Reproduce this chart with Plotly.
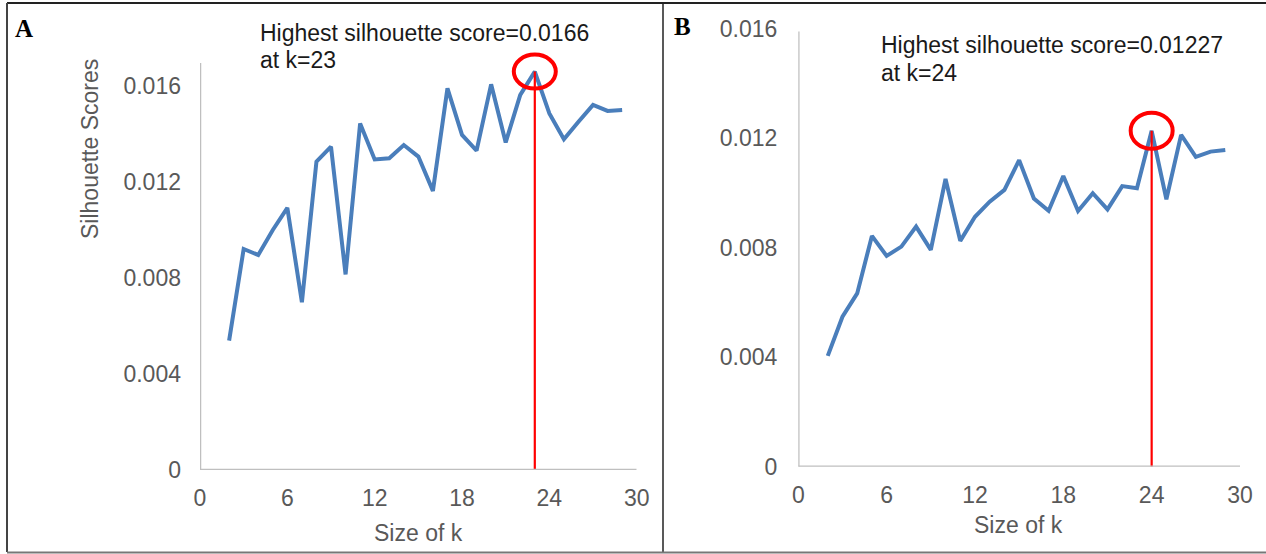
import plotly.graph_objects as go

k_values = list(range(2, 30))
scores_a = [0.00539, 0.00921, 0.00896, 0.0100, 0.01092, 0.00699, 0.01285, 0.01347,
            0.00815, 0.01444, 0.01294, 0.01299, 0.01354, 0.01306, 0.01163, 0.0159,
            0.01396, 0.01331, 0.01607, 0.01365, 0.01563, 0.0166, 0.01486, 0.01378,
            0.01451, 0.01521, 0.01496, 0.0150]
scores_b = [0.00405, 0.00548, 0.00633, 0.00843, 0.0077, 0.00804, 0.00877, 0.00792,
            0.01051, 0.00825, 0.00913, 0.00968, 0.01011, 0.0112, 0.0098, 0.00935,
            0.01062, 0.00934, 0.00999, 0.0094, 0.01025, 0.01017, 0.01227, 0.00977,
            0.01212, 0.01132, 0.01151, 0.01157]
x_ticks = [0, 6, 12, 18, 24, 30]
y_ticks = [0, 0.004, 0.008, 0.012, 0.016]
y_ticktext = ["0", "0.004", "0.008", "0.012", "0.016"]
best_text_a = ["Highest silhouette score=0.0166", "at k=23"]
best_text_b = ["Highest silhouette score=0.01227", "at k=24"]

W, H = 1266, 554
FONT = "Liberation Sans, Arial, sans-serif"
GRAY = "#595959"
BLUE = "#4a7ebb"
RED = "#ff0000"
AXIS = "#bfbfbf"


def px(x):
    return x / W


def py(y):
    return 1 - y / H


fig = go.Figure()

ia = scores_a.index(max(scores_a))
ib = scores_b.index(max(scores_b))
ka, sa = k_values[ia], scores_a[ia]
kb, sb = k_values[ib], scores_b[ib]

fig.add_trace(go.Scatter(x=k_values, y=scores_a, mode="lines",
                         line=dict(color=BLUE, width=4), xaxis="x", yaxis="y",
                         showlegend=False, hoverinfo="skip"))
fig.add_trace(go.Scatter(x=[ka, ka], y=[0, sa], mode="lines",
                         line=dict(color=RED, width=2.2), xaxis="x", yaxis="y",
                         showlegend=False, hoverinfo="skip"))
fig.add_trace(go.Scatter(x=k_values, y=scores_b, mode="lines",
                         line=dict(color=BLUE, width=4), xaxis="x2", yaxis="y2",
                         showlegend=False, hoverinfo="skip"))
fig.add_trace(go.Scatter(x=[kb, kb], y=[0, sb], mode="lines",
                         line=dict(color=RED, width=2.2), xaxis="x2", yaxis="y2",
                         showlegend=False, hoverinfo="skip"))

# panel A: 0 at y=470px, 96px per 0.004; domain extended upward so the circle is not clipped
a_px_per_unit = 96 / 0.004
a_top_px = 40
ya_top = (470 - a_top_px) / a_px_per_unit
ya_axis_top = 0.01696
# panel B: 0 at y=466.7px, 109.5px per 0.004
b_px_per_unit = 109.5 / 0.004
yb_top = 0.01601
yb_axis_top = 0.0159

common_x = dict(range=[0, 30], tickvals=x_ticks, showgrid=False, zeroline=False,
                showline=False, ticks="", tickfont=dict(family=FONT, size=23, color=GRAY),
                fixedrange=True, automargin=False)
common_y = dict(tickvals=y_ticks, ticktext=y_ticktext, showgrid=False, zeroline=False,
                showline=False, ticks="", tickfont=dict(family=FONT, size=23, color=GRAY),
                fixedrange=True, automargin=False)

fig.update_layout(
    width=W, height=H,
    margin=dict(l=0, r=0, t=0, b=0, pad=0),
    paper_bgcolor="white", plot_bgcolor="white",
    xaxis=dict(domain=[px(200), px(636.7)], anchor="y", ticklabelstandoff=12, **common_x),
    yaxis=dict(domain=[py(470), py(a_top_px)], anchor="x", range=[0, ya_top],
               ticklabelstandoff=18, **common_y),
    xaxis2=dict(domain=[px(798.3), px(1240)], anchor="y2", ticklabelstandoff=12, **common_x),
    yaxis2=dict(domain=[py(466.7), py(466.7 - yb_top * b_px_per_unit)], anchor="x2",
                range=[0, yb_top], ticklabelstandoff=20, **common_y),
)

shapes = []
# axis lines
shapes.append(dict(type="line", xref="x", yref="y", x0=0, x1=0, y0=0, y1=ya_axis_top,
                   line=dict(color=AXIS, width=2.5)))
shapes.append(dict(type="line", xref="x", yref="y", x0=0, x1=30, y0=0, y1=0,
                   line=dict(color=AXIS, width=2.5)))
shapes.append(dict(type="line", xref="x2", yref="y2", x0=0, x1=0, y0=0, y1=yb_axis_top,
                   line=dict(color=AXIS, width=2.5)))
shapes.append(dict(type="line", xref="x2", yref="y2", x0=0, x1=30, y0=0, y1=0,
                   line=dict(color=AXIS, width=2.5)))
# circles around best points
shapes.append(dict(type="circle", xref="x", yref="y", xsizemode="pixel", ysizemode="pixel",
                   xanchor=ka, yanchor=sa, x0=-21, x1=21, y0=-17, y1=17,
                   line=dict(color=RED, width=4)))
shapes.append(dict(type="circle", xref="x2", yref="y2", xsizemode="pixel", ysizemode="pixel",
                   xanchor=kb, yanchor=sb, x0=-21, x1=21, y0=-18, y1=18,
                   line=dict(color=RED, width=4)))
# frame
shapes.append(dict(type="line", xref="paper", yref="paper", x0=px(7), x1=1, y0=py(3), y1=py(3),
                   line=dict(color="#222222", width=2)))
shapes.append(dict(type="line", xref="paper", yref="paper", x0=px(7), x1=px(7), y0=py(3), y1=py(552),
                   line=dict(color="#444444", width=2)))
shapes.append(dict(type="line", xref="paper", yref="paper", x0=px(663), x1=px(663), y0=py(3), y1=py(552),
                   line=dict(color="#222222", width=1.5)))
shapes.append(dict(type="line", xref="paper", yref="paper", x0=px(7), x1=1, y0=py(552.5), y1=py(552.5),
                   line=dict(color="#777777", width=2)))
fig.update_layout(shapes=shapes)

ann = []


def txt(x, y, s, size=23, color="#1a1a1a", xanchor="left", family=FONT, angle=0):
    ann.append(dict(x=px(x), y=py(y), xref="paper", yref="paper", text=s, showarrow=False,
                    xanchor=xanchor, yanchor="middle", textangle=angle,
                    font=dict(family=family, size=size, color=color)))


txt(258, 33, best_text_a[0])
txt(258, 60, best_text_a[1])
txt(879, 45, best_text_b[0])
txt(879, 73, best_text_b[1])
txt(90, 149, "Silhouette Scores", color=GRAY, xanchor="center", angle=-90)
txt(418, 533, "Size of k", color=GRAY, xanchor="center")
txt(1018, 525, "Size of k", color=GRAY, xanchor="center")
txt(24, 28, "<b>A</b>", size=25, color="black", xanchor="center", family="Liberation Serif, Times New Roman, serif")
txt(682, 26, "<b>B</b>", size=25, color="black", xanchor="center", family="Liberation Serif, Times New Roman, serif")
fig.update_layout(annotations=ann)

fig.write_html("out.html")
